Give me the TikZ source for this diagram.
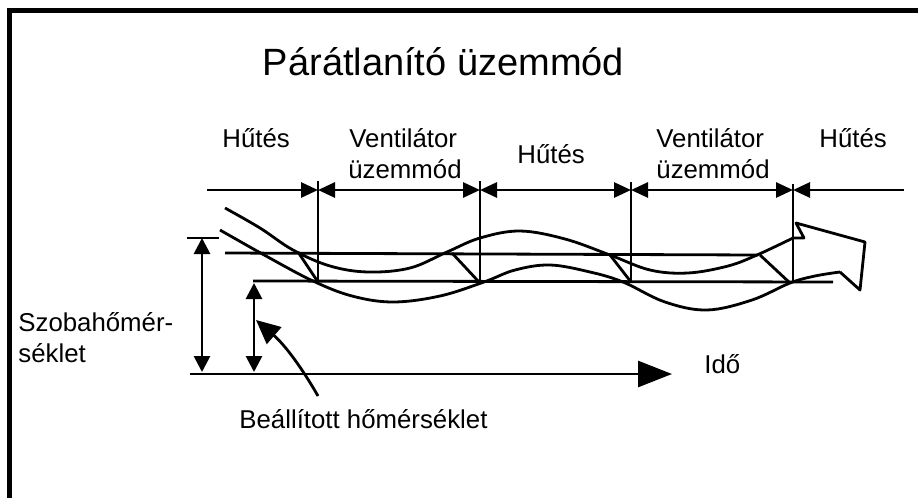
\documentclass[tikz,border=0pt]{standalone}
\usepackage{fontspec}
\setmainfont{Liberation Sans}
\usetikzlibrary{arrows.meta}
\tikzset{
  dimtip/.tip={Triangle[length=17pt,width=15pt]},
  vtip/.tip={Triangle[length=16pt,width=16pt]},
  axtip/.tip={Triangle[length=34pt,width=26pt]},
  ptip/.tip={Triangle[length=24pt,width=22pt]}
}
\begin{document}
\begin{tikzpicture}[x=1pt,y=-1pt,line width=2.8pt,line join=round,
  lbl/.style={font=\fontsize{25.8}{31}\selectfont,inner sep=0pt,anchor=base west},
  curve/.style={smooth,tension=0.6}]
\useasboundingbox (0,0) rectangle (918,498);
% frame (top and left only)
\draw[line width=5pt,line join=miter] (9.5,498) -- (9.5,10.5) -- (918,10.5);
% title
\node[anchor=base,inner sep=0pt,font=\fontsize{38}{40}\selectfont] (title) at (443.5,75) {Párátlanító üzemmód};
% phase labels
\node[lbl] (h1) at (221,147) {Hűtés};
\node[lbl] (v1a) at (348,147) {Ventilátor};
\node[lbl] (v1b) at (347,178) {üzemmód};
\node[lbl] (h2) at (516,163) {Hűtés};
\node[lbl] (v2a) at (655,147) {Ventilátor};
\node[lbl] (v2b) at (655,178) {üzemmód};
\node[lbl] (h3) at (818,147) {Hűtés};
% phase boundaries
\coordinate (s0) at (207,190);
\coordinate (t1) at (318,190);
\coordinate (t2) at (480,190);
\coordinate (t3) at (631,190);
\coordinate (t4) at (793,190);
\coordinate (s5) at (904,190);
\coordinate (b1) at (318,282);
\coordinate (b2) at (480,282);
\coordinate (b3) at (631,282);
\coordinate (b4) at (793,283);
\draw (318,181) -- (b1);
\draw (480,181) -- (b2);
\draw (631,182) -- (b3);
\draw (793,184) -- (b4);
\draw[-dimtip] (s0) -- (t1);
\draw[dimtip-dimtip] (t1) -- (t2);
\draw[dimtip-dimtip] (t2) -- (t3);
\draw[dimtip-dimtip] (t3) -- (t4);
\draw[dimtip-] (t4) -- (s5);
% limit lines
\coordinate (ua) at (225,253);
\coordinate (ub) at (758,255);
\coordinate (la) at (253,281);
\coordinate (lb) at (833,282);
\draw (ua) -- (ub);
\draw (la) -- (lb);
% switching diagonals
\draw (298,252) -- (b1);
\draw (452,253) -- (479,282);
\draw (610,255) -- (b3);
\draw (760,255) -- (790,283);
% upper wave with end shape
\draw plot[curve] coordinates {(225,208) (260,228) (293,250) (330,266) (368,272) (410,268) (447,252) (480,238) (520,231) (565,239) (610,255) (650,270) (688,273) (728,266) (757,255) (793,238)}
  -- (804,238) -- (796,223) -- (865,242) -- (860,290) -- (840,272);
% lower wave
\draw plot[curve] coordinates {(220,230) (266,256) (313,281) (352,296) (393,302) (440,296) (484,282) (515,270) (550,265) (590,272) (623,282) (665,302) (707,310) (752,300) (790,283) (815,276) (840,272)};
% room temperature dimension
\coordinate (rt) at (202,238);
\coordinate (rb) at (202,372);
\draw (187,238) -- (219,238);
\draw[vtip-vtip] (rt) -- (rb);
% set temperature dimension
\coordinate (st) at (254,283);
\coordinate (sb) at (254,372);
\draw[vtip-vtip] (st) -- (sb);
% time axis
\coordinate (ax0) at (190,374);
\coordinate (ax1) at (672,374);
\draw[-axtip] (ax0) -- (ax1);
\node[lbl] (ido) at (703,373) {Idő};
% left label
\node[lbl] (sz1) at (17,331) {Szobahőmér-};
\node[lbl] (sz2) at (17,362) {séklet};
% set temperature label and pointer
\node[lbl] (beal) at (238,428) {Beállított hőmérséklet};
\coordinate (pstart) at (318,396);
\coordinate (pend) at (256,320);
\draw[-ptip] (pstart) .. controls (302,368) and (285,345) .. (pend);
\end{tikzpicture}
\end{document}
